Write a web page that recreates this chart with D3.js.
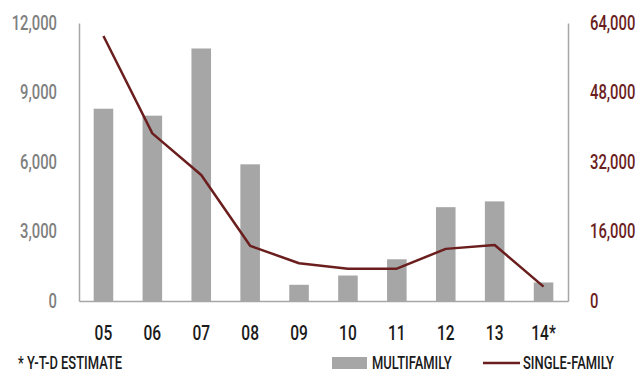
<!DOCTYPE html>
<html>
<head>
<meta charset="utf-8">
<script src="https://cdn.jsdelivr.net/npm/d3@7"></script>
<style>
  html, body { margin: 0; padding: 0; background: #fff; }
  svg { display: block; }
  text { font-family: "Roboto", "Noto Sans", sans-serif; font-weight: 500; }
</style>
</head>
<body>
<svg id="chart" width="639" height="373"></svg>
<script>
// Building permits by year: multifamily (bars, left axis) and single-family (line, right axis)
const years = ["05", "06", "07", "08", "09", "10", "11", "12", "13", "14*"];
const multifamily = [8300, 8000, 10900, 5900, 700, 1100, 1800, 4050, 4300, 800];
const singleFamily = [61000, 38600, 29000, 12700, 8700, 7400, 7450, 12000, 12900, 3300];
const leftTicks = [0, 3000, 6000, 9000, 12000];
const rightTicks = [0, 16000, 32000, 48000, 64000];

const GRAY = "#a6a6a6";
const MAROON = "#6b1e1e";
const CONDENSE = 0.74;

const svg = d3.select("#chart");
const plot = { left: 79, right: 568, top: 23, bottom: 301 };

const x = d3.scaleBand()
  .domain(years)
  .range([plot.left, plot.right])
  .paddingInner(0.6)
  .paddingOuter(0.3);

const yLeft = d3.scaleLinear().domain([0, 12000]).range([plot.bottom, plot.top]);
const yRight = d3.scaleLinear().domain([0, 64000]).range([plot.bottom, plot.top]);

const fmt = d3.format(",");

// Bars
svg.append("g")
  .selectAll("rect")
  .data(years)
  .join("rect")
  .attr("x", d => x(d))
  .attr("width", x.bandwidth())
  .attr("y", (d, i) => yLeft(multifamily[i]))
  .attr("height", (d, i) => plot.bottom - yLeft(multifamily[i]))
  .attr("fill", GRAY);

// Line
const line = d3.line()
  .x((d, i) => x(years[i]) + x.bandwidth() / 2)
  .y(d => yRight(d));

svg.append("path")
  .datum(singleFamily)
  .attr("d", line)
  .attr("fill", "none")
  .attr("stroke", MAROON)
  .attr("stroke-width", 2.5)
  .attr("stroke-linejoin", "round");

// Left axis
const gLeft = svg.append("g")
  .attr("transform", `translate(${plot.left},0)`)
  .call(d3.axisLeft(yLeft).tickValues(leftTicks).tickFormat(fmt).tickSize(0).tickPadding(22));
gLeft.select(".domain").attr("stroke", GRAY).attr("stroke-width", 1.5);
gLeft.selectAll("text").attr("fill", "#7f7f7f").style("font-size", "20px");

// Right axis
const gRight = svg.append("g")
  .attr("transform", `translate(${plot.right},0)`)
  .call(d3.axisRight(yRight).tickValues(rightTicks).tickFormat(fmt).tickSize(0).tickPadding(22));
gRight.select(".domain").attr("stroke", GRAY).attr("stroke-width", 1.5);
gRight.selectAll("text").attr("fill", MAROON).style("font-size", "20px");

// Bottom axis
const gBottom = svg.append("g")
  .attr("transform", `translate(0,${plot.bottom})`)
  .call(d3.axisBottom(x).tickSize(0).tickPadding(24));
gBottom.select(".domain").attr("stroke", GRAY).attr("stroke-width", 1.5);
gBottom.selectAll("text").attr("fill", "#1a1a1a").style("font-size", "21px");

// Footnote
svg.append("text")
  .attr("x", 18).attr("y", 369)
  .attr("fill", "#1a1a1a")
  .style("font-size", "17.5px")
  .text("* Y-T-D ESTIMATE");

// Legend
const legend = svg.append("g");
legend.append("rect")
  .attr("x", 332).attr("y", 357).attr("width", 35).attr("height", 12)
  .attr("fill", GRAY);
legend.append("text")
  .attr("x", 372).attr("y", 369)
  .attr("fill", "#1a1a1a")
  .style("font-size", "17.5px")
  .text("MULTIFAMILY");
legend.append("line")
  .attr("x1", 483).attr("x2", 520).attr("y1", 363).attr("y2", 363)
  .attr("stroke", MAROON).attr("stroke-width", 2.5);
legend.append("text")
  .attr("x", 523).attr("y", 369)
  .attr("fill", "#1a1a1a")
  .style("font-size", "17.5px")
  .text("SINGLE-FAMILY");

// Narrow every label horizontally around its own anchor point
svg.selectAll("text").each(function () {
  const ax = +this.getAttribute("x") || 0;
  d3.select(this).attr("transform", `translate(${ax},0) scale(${CONDENSE},1) translate(${-ax},0)`);
});
</script>
</body>
</html>
